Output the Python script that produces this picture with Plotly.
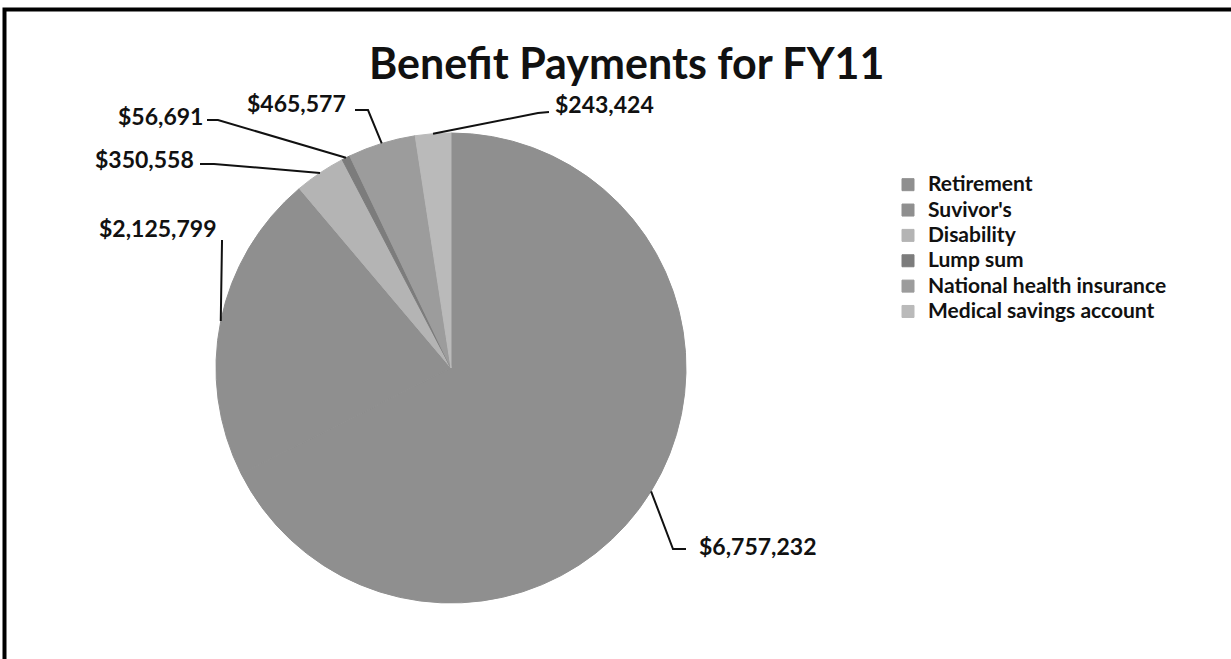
import math
import plotly.graph_objects as go

# ---- data ----
categories = ["Retirement", "Suvivor's", "Disability", "Lump sum",
              "National health insurance", "Medical savings account"]
values = [6757232, 2125799, 350558, 56691, 465577, 243424]
title_text = "Benefit Payments for FY11"

# ---- style / layout ----
W, H = 1231, 659
colors = ["#8f8f8f", "#8f8f8f", "#b4b4b4", "#7c7c7c", "#9c9c9c", "#bababa"]
FONT = "Lato"
INK = "#111111"
CX, CY, R = 451, 368, 235  # pie centre / radius in pixels
LEG_TEXT_PX = 21           # displayed legend text size
LEG_ROW_PX = 17.2          # legend font size controlling row pitch

# label text placement (pixels) and leader elbow (pixels)
label_style = [
    dict(tx=697, ty=546, xa="left",  start=(686, 549), elbow=(673, 549)),
    dict(tx=218, ty=228, xa="right", start=(222, 240), elbow=(222, 242)),
    dict(tx=196, ty=159, xa="right", start=(200, 164), elbow=(214, 164)),
    dict(tx=205, ty=116, xa="right", start=(207, 120), elbow=(218, 120)),
    dict(tx=348, ty=103, xa="right", start=(355, 110), elbow=(368, 110)),
    dict(tx=553, ty=104, xa="left",  start=(549, 112), elbow=(538, 113)),
]

def px(x):
    return x / W

def py(y):
    return 1 - y / H

legend_names = [f"<b><span style='font-size:{LEG_TEXT_PX}px'>{c}</span></b>" for c in categories]

fig = go.Figure(go.Pie(
    labels=legend_names, values=values, sort=False, direction="clockwise",
    rotation=0, marker=dict(colors=colors, line=dict(width=1, color=colors)),
    textinfo="none", textposition="none", hoverinfo="label+value",
    domain=dict(x=[px(CX - R), px(CX + R)], y=[py(CY + R), py(CY - R)]),
))

total = sum(values)
cum = 0.0
shapes = []
annotations = []
for v, st in zip(values, label_style):
    mid = (cum + v / 2) / total * 2 * math.pi
    cum += v
    ax = CX + R * math.sin(mid)
    ay = CY - R * math.cos(mid)
    pts = [st["start"], st["elbow"], (ax, ay)]
    path = "M " + " L ".join(f"{px(x)},{py(y)}" for x, y in pts)
    shapes.append(dict(type="path", xref="paper", yref="paper", path=path,
                       line=dict(color=INK, width=2)))
    annotations.append(dict(x=px(st["tx"]), y=py(st["ty"]), xref="paper", yref="paper",
                            text=f"<b>${v:,}</b>", showarrow=False,
                            xanchor=st["xa"], yanchor="middle",
                            font=dict(family=FONT, size=23, color=INK)))

# outer frame (top and left edges visible)
shapes.append(dict(type="path", xref="paper", yref="paper",
                   path=f"M {px(4.5)},{py(H + 5)} L {px(4.5)},{py(9.5)} L {px(W + 5)},{py(9.5)}",
                   line=dict(color="#000000", width=4)))

annotations.append(dict(x=px(627), y=py(62), xref="paper", yref="paper",
                        text=f"<b>{title_text}</b>", showarrow=False,
                        xanchor="center", yanchor="middle",
                        font=dict(family=FONT, size=43, color=INK)))

fig.update_layout(
    width=W, height=H, margin=dict(l=0, r=0, t=0, b=0),
    paper_bgcolor="white", plot_bgcolor="white",
    shapes=shapes, annotations=annotations,
    legend=dict(x=px(888), y=py(167), xanchor="left", yanchor="top",
                font=dict(family=FONT, size=LEG_ROW_PX, color=INK),
                itemclick=False, tracegroupgap=0),
    showlegend=True,
)

fig.write_html("out.html")
